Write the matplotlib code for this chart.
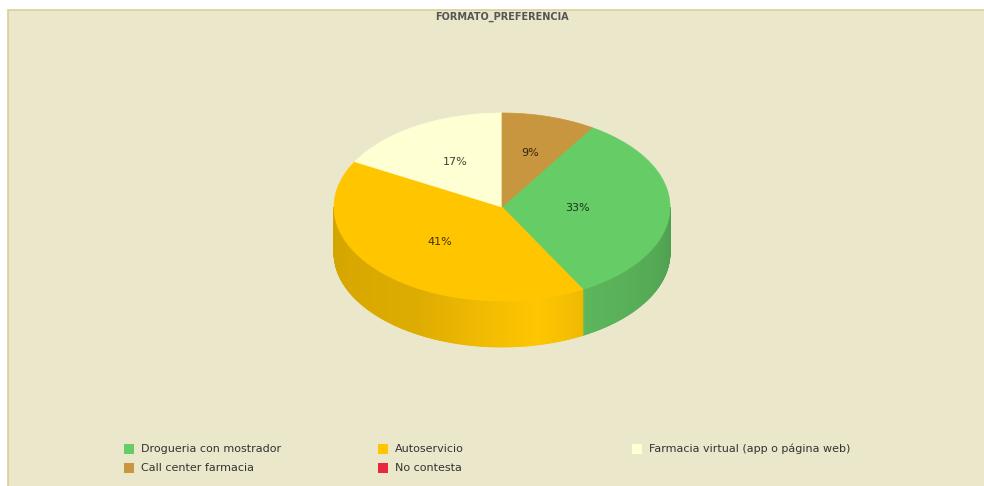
import numpy as np
import matplotlib.pyplot as plt
from matplotlib.patches import Polygon, Rectangle
import matplotlib.colors as mcolors

title = 'FORMATO_PREFERENCIA'
categories = ['Drogueria con mostrador', 'Autoservicio',
              'Farmacia virtual (app o página web)', 'Call center farmacia',
              'No contesta']
percent = [33, 41, 17, 9, 0]
colors = ['#66CC66', '#FFC600', '#FFFFD4', '#C8963E', '#E8283C']

# pie geometry (pixels)
cx, cy = 502, 207
a, b = 168, 94
depth = 46
start = 57.6          # degrees, slices go clockwise
label_r = [0.45, 0.52, 0.55, 0.6, 0.55]

# brightness of the side wall along the front arc
shade_t = [-180, -150, -120, -95, -78, -62, -60, -30, 0]
shade_v = [0.83, 0.85, 0.87, 0.95, 1.00, 0.94, 0.89, 0.84, 0.77]

W, H = 984, 486
fig = plt.figure(figsize=(W / 100, H / 100), dpi=100)
fig.patch.set_facecolor('white')
ax = fig.add_axes([0, 0, 1, 1])
ax.set_xlim(0, W)
ax.set_ylim(H, 0)
ax.axis('off')

ax.add_patch(Rectangle((8, 10), W, H, facecolor='#EAE7CB', edgecolor='#DCCF95', lw=1.2))
ax.text(cx, 17, title, ha='center', va='center', fontsize=7, fontweight='bold', color='#555555')


def pt(t, off=0.0):
    r = np.radians(t)
    return cx + a * np.cos(r), cy - b * np.sin(r) + off


theta = start
slices = []
for v, c in zip(percent, colors):
    t1 = theta
    t2 = theta - 360 * v / 100
    theta = t2
    if v > 0:
        slices.append((t1, t2, c, v))

# side walls (front half only)
for t1, t2, c, v in slices:
    lo, hi = max(t2, -180), min(t1, 0)
    if lo >= hi:
        continue
    base = np.array(mcolors.to_rgb(c))
    ts = np.linspace(hi, lo, int((hi - lo) * 2) + 2)
    for s0, s1 in zip(ts[:-1], ts[1:]):
        col = np.clip(base * np.interp((s0 + s1) / 2, shade_t, shade_v), 0, 1)
        quad = [pt(s0), pt(s1), pt(s1, depth), pt(s0, depth)]
        ax.add_patch(Polygon(quad, closed=True, facecolor=col, edgecolor=col, lw=0.6))

# top faces
for t1, t2, c, v in slices:
    ts = np.linspace(t1, t2, max(int(abs(t1 - t2)), 2) + 1)
    verts = [(cx, cy)] + [pt(t) for t in ts]
    ax.add_patch(Polygon(verts, closed=True, facecolor=c, edgecolor=c, lw=0.5))

# percentage labels
theta = start
for i, v in enumerate(percent):
    mid = theta - 360 * v / 200
    theta -= 360 * v / 100
    if v <= 0:
        continue
    r = np.radians(mid)
    x = cx + label_r[i] * a * np.cos(r)
    y = cy - label_r[i] * b * np.sin(r)
    ax.text(x, y, f'{v}%', ha='center', va='center', fontsize=8, color='black', alpha=0.75)

# legend: three columns, two rows
col_x = [124, 378, 632]
row_y = [449, 468]
for i, (name, c) in enumerate(zip(categories, colors)):
    x = col_x[i % 3]
    y = row_y[i // 3]
    ax.add_patch(Rectangle((x, y - 5), 10, 10, facecolor=c, edgecolor='none'))
    ax.text(x + 17, y, name, ha='left', va='center', fontsize=8, color='#333333')

fig.savefig('out.png', dpi=100, facecolor=fig.get_facecolor())
